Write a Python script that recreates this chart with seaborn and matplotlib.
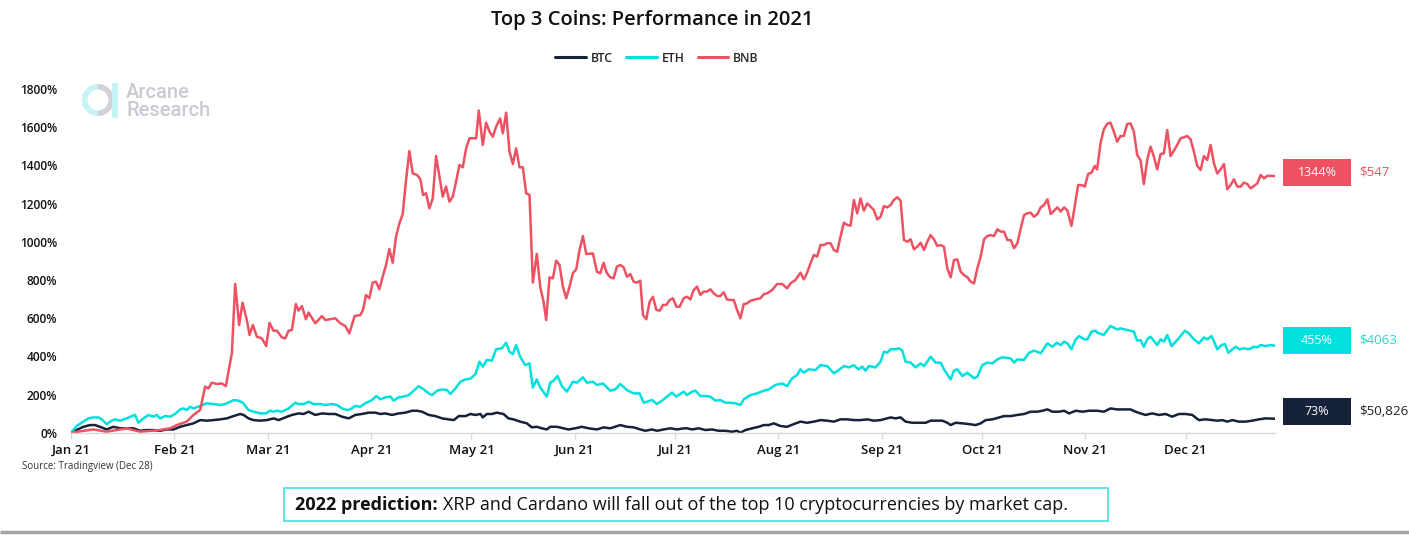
import matplotlib
matplotlib.use("Agg")
import numpy as np
import pandas as pd
import matplotlib.pyplot as plt
import matplotlib.transforms as mtrans
from matplotlib.patches import Rectangle, Wedge
import seaborn as sns

# ---------------- data (percent change since Jan 1 2021; x = days since Jan 1) ----------------
coins = ["BTC", "ETH", "BNB"]
final_pct_labels = ["73%", "455%", "1344%"]
final_price_labels = ["$50,826", "$4063", "$547"]
month_labels = ["Jan 21", "Feb 21", "Mar 21", "Apr 21", "May 21", "Jun 21",
                "Jul 21", "Aug 21", "Sep 21", "Oct 21", "Nov 21", "Dec 21"]
y_ticks = [0, 200, 400, 600, 800, 1000, 1200, 1400, 1600, 1800]

btc_day = [0, 1.7, 3.7, 5.7, 7.2, 8.7, 10.7, 12.7, 14.7, 16.7, 18.7, 20.7, 22.7, 24.7, 26.7, 28.7, 30.7,
           32.7, 34.7, 36.7, 38.7, 40.7, 42.7, 44.7, 46.7, 48.7, 50.7, 51.7, 53.2, 54.7, 56.7, 58.7, 60.7,
           62.2, 64.2, 66.2, 68.2, 69.7, 71.2, 73.2, 75.2, 77.2, 79.2, 81.2, 83.2, 85.2, 87.2, 89.2, 91.2,
           92.7, 94.2, 96.2, 98.2, 100.2, 102.2, 103.7, 105.2, 107.2, 109.2, 111.2, 113.2, 114.7, 116.2,
           118.2, 119.7, 121.2, 122.7,
           123.4, 124.6, 126.1, 127.6, 129.6, 131.1, 132.6, 134.6, 136.6, 138.1, 139.6, 141.1, 142.6, 143.6,
           145.6, 147.6, 149.1, 151.1, 153.1, 155.1, 157.6, 159.6, 161.6, 164.6, 166.6, 168.6, 170.6, 172.1,
           174.1, 175.6, 177.6, 179.6, 181.6, 183.6,
           184.6, 186.1, 188.1, 190.1, 192.1, 194.1, 196.1, 198.1, 199.6, 200.6, 202.1, 204.1, 206.1, 207.6,
           209.1, 210.6, 212.6, 214.6, 216.6, 218.6, 220.6, 222.6, 224.6, 226.6, 228.6, 230.6, 232.6, 234.6,
           236.6, 238.6, 240.6, 242.6, 244.6, 245.6,
           247.1, 248.6, 250.1, 252.1, 254.1, 256.1, 257.6, 259.6, 261.1, 262.6, 263.6, 265.1, 267.1, 269.1,
           271.1, 272.6, 274.1, 276.1, 278.1, 279.6, 281.6, 283.6, 285.6, 287.6, 289.6, 291.1, 292.6, 294.1,
           296.1, 297.6, 299.1, 301.1, 303.1, 305.1, 307.1,
           307.5, 309.5, 311.5, 313.5, 315.5, 317.5, 319.0, 320.5, 322.0, 324.0, 326.0, 328.0, 330.0, 332.0,
           334.0, 336.0, 338.0, 340.0, 342.0, 343.5, 345.0, 346.5, 348.0, 350.0, 352.0, 354.0, 356.0, 358.0, 360.8]
btc_pct = [0, 14, 31, 40, 40, 31, 17, 31, 23, 23, 23, 10, 14, 14, 10, 17, 17,
           31, 40, 49, 66, 63, 66, 70, 75, 87, 98, 93, 75, 66, 63, 66, 75,
           66, 80, 93, 101, 98, 110, 93, 101, 98, 98, 84, 75, 93, 98, 105, 105,
           98, 101, 93, 101, 105, 115, 115, 110, 93, 87, 75, 70, 66, 87,
           87, 98, 93, 98,
           80, 98, 98, 105, 98, 75, 70, 58, 49, 28, 31, 23, 17, 31,
           31, 23, 17, 23, 31, 23, 17, 28, 23, 40, 31, 28, 17, 10,
           17, 10, 17, 23, 17, 23,
           23, 17, 23, 14, 17, 10, 10, 5, 10, 0, 14, 23, 31, 40,
           40, 49, 35, 31, 45, 58, 52, 58, 66, 63, 58, 70, 70, 66,
           66, 70, 63, 66, 75, 80,
           75, 80, 58, 52, 52, 52, 63, 63, 63, 52, 40, 52, 49, 45,
           40, 49, 66, 70, 80, 87, 87, 93, 98, 110, 110, 115, 122, 110,
           110, 115, 101, 115, 110, 115, 115,
           115, 110, 127, 122, 122, 122, 110, 101, 93, 101, 93, 98, 84, 98,
           98, 93, 66, 70, 66, 63, 66, 58, 66, 58, 58, 63, 70, 75, 73]

eth_day = [0, 1.7, 3.7, 5.2, 6.7, 8.2, 9.2, 10.7, 12.2, 13.2, 14.7, 16.7, 18.2, 19.2, 20.2, 21.7, 23.2,
           24.7, 25.7, 26.7, 28.2, 29.7, 31.2, 32.7, 33.7, 34.7, 35.7, 36.7, 38.7, 40.7, 42.7, 44.7, 46.2,
           47.7, 48.7, 50.2, 51.5, 53.2, 54.7, 56.7, 58.5, 59.5, 60.7,
           61.7, 63.2, 65.2, 67.2, 68.2, 69.7, 71.2, 72.7, 74.7, 76.2, 78.2, 79.7, 81.2, 82.7, 83.7, 85.2,
           86.7, 88.2, 90.2, 91.5, 92.7, 94.2, 95.7, 96.7, 98.2, 99.7, 101.2, 102.7, 104.2, 105.7, 107.2,
           108.2, 109.7, 111.2, 112.7, 113.7, 115.2, 116.7, 118.2, 119.7, 121.2, 122.4,
           123.4, 124.6, 126.1, 127.4, 129.1, 130.4, 131.4, 132.4, 133.4, 134.6, 136.1, 137.4, 138.4, 139.6,
           140.6, 142.6, 143.6, 144.6, 145.8, 147.1, 148.6, 150.4, 151.6, 153.4, 154.6, 156.4, 157.6, 159.4,
           161.6, 163.1, 164.6, 166.6, 168.6, 170.4, 171.6, 174.1, 175.6, 177.1, 178.6, 180.1, 181.4, 183.6,
           184.6, 186.1, 187.1, 188.6, 190.1, 191.6, 193.1, 194.6, 196.1, 197.6, 199.1, 200.6, 201.6, 203.6,
           205.6, 207.6, 209.1, 211.1, 213.1, 214.6, 216.1, 217.6, 218.6, 219.6, 221.1, 223.1, 224.6, 226.6,
           228.6, 230.1, 231.6, 233.1, 234.6, 235.9, 237.1, 238.1, 239.1, 241.1, 242.6, 243.6, 244.6, 245.6,
           247.1, 248.1, 249.1, 250.1, 251.6, 253.1, 254.6, 255.6, 256.6, 257.6, 259.1, 260.6, 261.6, 263.6,
           264.6, 265.6, 267.1, 268.6, 270.6, 271.6, 273.1, 274.6, 276.1, 277.6, 279.1, 281.6, 282.6, 283.6,
           285.6, 287.1, 288.6, 290.6, 292.6, 294.1, 295.4, 296.6, 297.6, 298.6, 299.8, 301.1, 302.1, 303.6,
           304.6, 305.8, 307.1,
           307.5, 309.5, 311.5, 313.5, 314.5, 316.5, 318.5, 319.5, 320.5, 321.5, 322.5, 323.5, 325.5, 326.5,
           327.5, 328.5, 329.8, 331.5, 333.8, 335.0, 336.5, 338.0, 339.5, 340.5, 341.8, 343.5, 344.8, 345.8,
           346.8, 347.8, 349.0, 350.2, 351.5, 353.0, 354.5, 355.5, 356.5, 358.0, 359.5, 360.8]
eth_pct = [0, 35, 58, 75, 80, 80, 70, 45, 63, 70, 63, 75, 87, 93, 52, 75, 93,
           84, 93, 75, 87, 84, 98, 122, 127, 119, 136, 127, 140, 154, 150, 145, 150,
           162, 171, 168, 157, 119, 110, 101, 101, 115, 110,
           115, 110, 127, 157, 150, 150, 162, 150, 150, 145, 150, 145, 127, 119, 122, 140,
           136, 154, 171, 192, 175, 185, 189, 168, 185, 189, 197, 220, 244, 227, 206,
           197, 220, 227, 223, 203, 232, 267, 279, 283, 307, 372,
           346, 381, 377, 437, 442, 471, 424, 412, 459, 398, 354, 363, 237, 279,
           237, 189, 262, 272, 297, 244, 215, 267, 262, 290, 262, 267, 250, 258,
           220, 227, 255, 223, 206, 206, 157, 171, 150, 168, 189, 210, 189, 215,
           197, 215, 220, 192, 192, 189, 168, 171, 157, 157, 154, 145, 175, 197,
           206, 220, 227, 250, 258, 244, 285, 302, 332, 314, 332, 328, 354, 349,
           311, 328, 349, 342, 354, 332, 346, 325, 349, 342, 372, 424, 419, 437,
           437, 442, 430, 372, 367, 342, 363, 349, 372, 398, 367, 367, 332, 279,
           325, 332, 297, 314, 285, 293, 354, 367, 363, 384, 395, 389, 367, 384,
           381, 419, 430, 416, 468, 450, 471, 459, 477, 468, 437, 489, 506, 489,
           489, 529, 534,
           524, 512, 559, 541, 546, 538, 529, 482, 485, 450, 489, 503, 459, 489,
           477, 512, 454, 485, 534, 520, 489, 468, 499, 489, 506, 437, 459, 464,
           419, 433, 450, 437, 442, 437, 450, 447, 459, 454, 459, 455]

bnb_day = [0, 6.7, 10.7, 16.7, 20.7, 26.7, 29.7, 31.7, 34.7, 36.7, 38.7, 40.2, 41.2, 42.2, 43.7, 45.2,
           46.4, 48.2, 49.2, 50.4, 51.4, 52.7, 53.5, 54.5, 55.7, 57.2, 58.5, 59.5, 60.7,
           61.7, 63.2, 64.2, 65.2, 66.2, 67.4, 68.2, 69.2, 70.4, 71.2, 73.2, 75.2, 76.2, 79.2, 80.7, 82.2,
           83.4, 85.0, 86.7, 87.5, 88.4, 89.4, 90.4, 91.4, 92.4, 93.4, 94.4, 95.4, 96.4, 97.4, 98.4, 99.4,
           100.4, 101.4, 102.4, 103.7, 104.7, 105.5, 106.4, 107.4, 108.4, 109.4, 110.4, 111.4, 112.4, 113.4,
           114.4, 115.4, 116.4, 117.4, 118.4, 119.4, 120.7, 121.4, 122.2,
           123.4, 124.4, 125.4, 126.4, 127.4, 128.6, 129.4, 130.4, 131.4, 132.4, 133.4, 134.4, 135.4, 136.4,
           137.4, 138.4, 139.6, 140.6, 141.6, 142.4, 143.4, 144.4, 145.4, 146.4, 147.4, 148.4, 149.4, 150.4,
           151.4, 152.4, 153.4, 154.4, 156.4, 157.6, 158.6, 159.6, 160.6, 161.6, 162.6, 163.6, 164.6, 165.6,
           166.6, 167.6, 168.6, 169.6, 170.6, 171.4, 172.4, 173.4, 174.4, 175.4, 176.4, 177.4, 178.4, 179.4,
           180.4, 181.4, 182.4, 183.6,
           184.6, 185.6, 186.6, 187.6, 188.6, 189.6, 190.6, 191.6, 192.6, 193.6, 194.6, 195.6, 196.6, 197.6,
           198.6, 199.6, 200.6, 201.6, 202.6, 203.6, 205.1, 206.6, 207.6, 208.6, 210.1, 211.6, 213.1, 214.6,
           215.6, 217.1, 218.6, 219.6, 220.6, 221.6, 222.6, 223.6, 224.6, 225.6, 226.6, 227.6, 228.6, 229.6,
           230.6, 231.6, 232.6, 233.6, 234.6, 235.6, 236.6, 237.6, 238.6, 239.6, 240.6, 241.6, 242.6, 243.6,
           244.6, 245.6,
           246.6, 247.6, 248.6, 249.6, 250.6, 251.6, 252.6, 253.6, 254.6, 255.6, 256.6, 257.6, 258.6, 259.6,
           260.6, 261.6, 262.6, 263.6, 264.6, 265.6, 266.6, 267.6, 268.6, 269.6, 270.6, 271.6, 272.6, 273.6,
           274.6, 275.6, 276.6, 277.6, 278.6, 279.6, 280.6, 281.6, 282.6, 283.6, 284.6, 285.6, 286.6, 287.6,
           288.6, 289.6, 290.6, 291.6, 292.6, 293.6, 294.6, 295.6, 296.6, 297.6, 298.6, 299.8, 300.8, 301.8,
           302.8, 303.8, 304.8, 305.8, 306.8,
           307.5, 308.5, 309.5, 310.5, 311.5, 312.5, 313.5, 314.5, 315.5, 316.5, 317.5, 318.5, 319.5, 320.5,
           321.5, 322.5, 323.5, 324.5, 325.5, 326.5, 327.5, 328.5, 329.5, 330.5, 331.5, 332.5, 333.5, 334.5,
           335.5, 336.5, 337.5, 338.5, 339.5, 340.5, 341.5, 342.5, 343.5, 344.5, 345.5, 346.5, 347.5, 348.5,
           349.5, 350.5, 351.5, 352.5, 353.5, 354.5, 355.5, 356.5, 357.5, 358.5, 359.5, 360.8]
bnb_pct = [0, 17, 5, 23, 5, 14, 23, 40, 58, 93, 119, 241, 232, 262, 255, 258,
           244, 416, 779, 564, 681, 590, 512, 564, 503, 494, 454, 575, 534,
           534, 499, 494, 534, 538, 674, 639, 663, 594, 629, 573, 611, 590, 599, 573, 559,
           520, 611, 616, 643, 721, 704, 786, 791, 751, 817, 878, 962, 890, 1027, 1096, 1145,
           1323, 1475, 1358, 1350, 1327, 1245, 1254, 1175, 1227, 1449, 1341, 1236, 1289, 1210,
           1236, 1315, 1402, 1390, 1489, 1542, 1542, 1542, 1687,
           1507, 1624, 1577, 1550, 1603, 1646, 1568, 1676, 1472, 1407, 1489, 1390, 1390, 1254,
           1245, 786, 936, 765, 686, 590, 814, 808, 901, 878, 765, 704, 765, 835,
           856, 957, 1030, 936, 939, 843, 835, 890, 835, 814, 808, 870, 878, 866,
           817, 831, 791, 786, 796, 616, 594, 686, 712, 643, 639, 669, 669, 695,
           704, 660, 660, 704,
           712, 698, 747, 765, 721, 739, 739, 751, 730, 716, 716, 735, 698, 695,
           695, 643, 599, 674, 677, 691, 698, 704, 726, 730, 747, 779, 779, 756,
           782, 800, 838, 803, 838, 887, 931, 922, 983, 983, 992, 992, 957, 948,
           1027, 1100, 1088, 1084, 1219, 1149, 1227, 1163, 1201, 1184, 1166, 1117, 1131, 1187,
           1180, 1192,
           1219, 1233, 1215, 1009, 1000, 1013, 960, 974, 995, 957, 1000, 1035, 1013, 978,
           983, 974, 861, 814, 904, 908, 843, 826, 814, 791, 782, 861, 922, 1013,
           1030, 1035, 1030, 1065, 1053, 1053, 1009, 1009, 966, 992, 1070, 1140, 1149, 1152,
           1131, 1145, 1180, 1193, 1222, 1145, 1163, 1180, 1158, 1180, 1163, 1083, 1187, 1297,
           1297, 1289, 1355, 1362, 1397,
           1379, 1515, 1589, 1617, 1624, 1577, 1524, 1554, 1554, 1617, 1620, 1577, 1454, 1428,
           1302, 1428, 1498, 1446, 1379, 1459, 1463, 1585, 1449, 1477, 1507, 1542, 1547, 1554,
           1536, 1472, 1397, 1376, 1449, 1428, 1507, 1411, 1358, 1379, 1407, 1275, 1297, 1327,
           1289, 1289, 1310, 1302, 1280, 1292, 1306, 1350, 1332, 1345, 1345, 1344]

# ---------------- style ----------------
colors = {"BTC": "#16223a", "ETH": "#00e1de", "BNB": "#ee5262"}
price_colors = {"BTC": "#222222", "ETH": "#19dcd9", "BNB": "#ee5262"}

sns.set_theme(style="white")
plt.rcParams["font.family"] = ["Open Sans", "DejaVu Sans"]

W, H = 1409, 535
fig = plt.figure(figsize=(W / 100, H / 100), dpi=100)
ax_left, ax_right, ax_top, ax_bot = 71, 1275, 89, 432.7
ax = fig.add_axes([ax_left / W, 1 - ax_bot / H, (ax_right - ax_left) / W, (ax_bot - ax_top) / H])
ax.patch.set_alpha(0)

start = pd.Timestamp("2021-01-01")
frames = []
for name, d, v in [("BTC", btc_day, btc_pct), ("ETH", eth_day, eth_pct), ("BNB", bnb_day, bnb_pct)]:
    frames.append(pd.DataFrame({"date": start + pd.to_timedelta(np.array(d), unit="D"),
                                "pct": v, "coin": name}))
df = pd.concat(frames, ignore_index=True)

sns.lineplot(data=df, x="date", y="pct", hue="coin", hue_order=coins, palette=colors,
             linewidth=1.8, estimator=None, sort=True, ax=ax)

ax.set_xlim(start, start + pd.Timedelta(days=360.8))
ax.set_ylim(0, 1800)
ax.set_xlabel("")
ax.set_ylabel("")
ax.set_yticks(y_ticks)
ax.set_yticklabels([f"{v}%" for v in y_ticks])
month_starts = pd.date_range("2021-01-01", periods=12, freq="MS")
ax.set_xticks(month_starts)
ax.set_xticklabels(month_labels)
for s in ["left", "top", "right"]:
    ax.spines[s].set_visible(False)
ax.spines["bottom"].set_color("#d9d9d9")
ax.spines["bottom"].set_linewidth(1.0)
ax.tick_params(axis="x", bottom=True, length=4, width=1, color="#d9d9d9", pad=4,
               labelsize=9.5, labelcolor="#111111")
ax.tick_params(axis="y", left=False, length=0, pad=10, labelsize=8.6, labelcolor="#111111")
for lab in ax.get_xticklabels() + ax.get_yticklabels():
    lab.set_fontweight("semibold")
ax.grid(False)

sns.move_legend(ax, "center", bbox_to_anchor=(657 / W, 1 - 58 / H), bbox_transform=fig.transFigure,
                ncol=3, frameon=False, title=None, handlelength=2.5, handletextpad=0.4,
                columnspacing=1.1, prop={"weight": "semibold", "size": 8.8})
for line in ax.get_legend().get_lines():
    line.set_linewidth(2.2)

# end-of-series labels
trans = mtrans.blended_transform_factory(ax.transAxes, ax.transData)
final_vals = [btc_pct[-1], eth_pct[-1], bnb_pct[-1]]
box_x0 = (1283 - ax_left) / (ax_right - ax_left)
box_w = (1351 - 1283) / (ax_right - ax_left)
box_h = 27 * 1800 / (ax_bot - ax_top)
offsets = {"BTC": 38, "ETH": 28, "BNB": 19}
for name, val, ptxt, prc in zip(coins, final_vals, final_pct_labels, final_price_labels):
    yc = val + offsets[name]
    ax.add_patch(Rectangle((box_x0, yc - box_h / 2), box_w, box_h, transform=trans,
                           facecolor=colors[name], edgecolor="none", clip_on=False, zorder=5))
    ax.text(box_x0 + box_w / 2, yc, ptxt, transform=trans, ha="center", va="center",
            color="white", fontsize=9, zorder=6, clip_on=False)
    ax.text((1359 - ax_left) / (ax_right - ax_left), yc, prc, transform=trans, ha="left",
            va="center", color=price_colors[name], fontsize=9.6, clip_on=False)

# ---------------- decorations (pixel overlay) ----------------
ov = fig.add_axes([0, 0, 1, 1], zorder=-1)
ov.set_xlim(0, W)
ov.set_ylim(H, 0)
ov.axis("off")

fig.text(652 / W, 1 - 20 / H, "Top 3 Coins: Performance in 2021", ha="center", va="center",
         fontsize=14.5, fontweight="semibold", color="#111111")

# logo
ov.add_patch(Wedge((98, 100), 16, 90, 270, width=5.5, facecolor="#c6f3f3", edgecolor="none"))
ov.add_patch(Wedge((98, 100), 16, 270, 90, width=5.5, facecolor="#d2d3da", edgecolor="none"))
ov.add_patch(Rectangle((112, 83), 5.5, 35, facecolor="#c6f3f3", edgecolor="none"))
ov.text(126, 92, "Arcane", fontsize=14.5, color="#c9cad3", va="center", ha="left",
        family=["Roboto", "DejaVu Sans"], fontweight="medium")
ov.text(126, 110, "Research", fontsize=14.5, color="#c9cad3", va="center", ha="left",
        family=["Roboto", "DejaVu Sans"], fontweight="medium")

fig.text(22 / W, 1 - 466 / H, "Source: Tradingview (Dec 28)", fontsize=7, color="#333333",
         va="center", ha="left")

# prediction box
ov.add_patch(Rectangle((284, 488), 824, 33, facecolor="white", edgecolor="#45dfe0", linewidth=1.2))
t1 = ov.text(295, 505, "2022 prediction:", fontsize=13, fontweight="bold", color="#111111",
             va="center", ha="left")
fig.canvas.draw()
bb = t1.get_window_extent(renderer=fig.canvas.get_renderer())
x_after = bb.x1 + 5
ov.text(x_after, 505, "XRP and Cardano will fall out of the top 10 cryptocurrencies by market cap.",
        fontsize=13, color="#111111", va="center", ha="left")

ov.plot([0, W], [532, 532], color="#a3a3a3", linewidth=2.5, solid_capstyle="butt")

fig.savefig("out.png", dpi=100)
